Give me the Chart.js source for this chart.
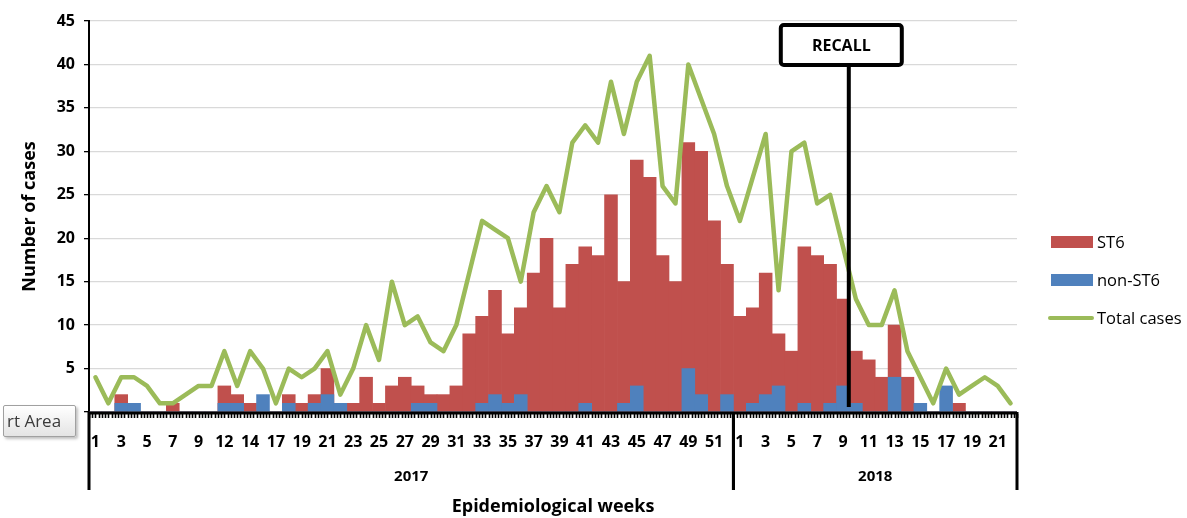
<!DOCTYPE html>
<html lang="en">
<head>
    <meta charset="UTF-8">
    <title>ST6 and non-ST6 cases by epidemiological week</title>
    <script src="https://cdn.jsdelivr.net/npm/chart.js"></script>
    <style>
        body { margin: 0; background: #fff; font-family: 'Open Sans', sans-serif; }
        .wrap { position: relative; width: 1187px; height: 518px; }
        .legend { position: absolute; left: 1048px; top: 228px; font-size: 16.5px; color: #000; }
        .legend div { position: relative; height: 38px; line-height: 28px; padding-left: 49px; }
        .legend span { position: absolute; left: 3px; }
        .sw-red { top: 8px; width: 42px; height: 12px; background: #C0504D; }
        .sw-blue { top: 8px; width: 42px; height: 12px; background: #4F81BD; }
        .sw-green { top: 12px; width: 46px !important; left: 0 !important; height: 4px; background: #9BBB59; border-radius: 2px; }
        .tip {
            position: absolute; left: 3px; top: 405px; width: 68px; height: 30px;
            border: 1px solid #a0a0a0; border-radius: 2px;
            background: linear-gradient(#ffffff, #e4e4e4);
            box-shadow: 2px 2px 3px rgba(0,0,0,0.25);
            font-family: 'Open Sans', sans-serif; font-size: 17px; color: #3a3a3a;
            line-height: 30px; padding-left: 3px; white-space: nowrap; overflow: hidden;
        }
    </style>
</head>
<body>
<div class="wrap">
    <canvas id="casesChart"></canvas>
    <div class="legend">
        <div><span class="sw-red"></span>ST6</div>
        <div><span class="sw-blue"></span>non-ST6</div>
        <div><span class="sw-green"></span>Total cases</div>
    </div>
    <div class="tip">rt Area</div>
</div>

<script>
    // epidemiological weeks (two weeks of 2017 have no row)
    const weeks2017 = [1, 2, 3, 4, 5, 6, 7, 8, 9, 10, 12, 13, 14, 15, 17, 18, 19, 20, 21, 22, 23, 24, 25, 26, 27,
        28, 29, 30, 31, 32, 33, 34, 35, 36, 37, 38, 39, 40, 41, 42, 43, 44, 45, 46, 47, 48, 49, 50, 51, 52];
    const weeks2018 = [1, 2, 3, 4, 5, 6, 7, 8, 9, 10, 11, 12, 13, 14, 15, 16, 17, 18, 19, 20, 21, 22];
    const years = ['2017', '2018'];

    const st6 = [0, 0, 2, 0, 0, 0, 1, 0, 0, 0,
        3, 2, 1, 0, 0, 2, 1, 2, 5, 1,
        1, 4, 1, 3, 4, 3, 2, 2, 3, 9,
        11, 14, 9, 12, 16, 20, 12, 17, 19, 18,
        25, 15, 29, 27, 18, 15, 31, 30, 22, 17,
        11, 12, 16, 9, 7, 19, 18, 17, 13, 7,
        6, 4, 10, 4, 0, 0, 0, 1, 0, 0, 0, 0];
    const nonSt6 = [0, 0, 1, 1, 0, 0, 0, 0, 0, 0,
        1, 1, 0, 2, 0, 1, 0, 1, 2, 1,
        0, 0, 0, 0, 0, 1, 1, 0, 0, 0,
        1, 2, 1, 2, 0, 0, 0, 0, 1, 0,
        0, 1, 3, 0, 0, 0, 5, 2, 0, 2,
        0, 1, 2, 3, 0, 1, 0, 1, 3, 1,
        0, 0, 4, 0, 1, 0, 3, 0, 0, 0, 0, 0];
    const totalCases = [4, 1, 4, 4, 3, 1, 1, 2, 3, 3,
        7, 3, 7, 5, 1, 5, 4, 5, 7, 2,
        5, 10, 6, 15, 10, 11, 8, 7, 10, 16,
        22, 21, 20, 15, 23, 26, 23, 31, 33, 31,
        38, 32, 38, 41, 26, 24, 40, 36, 32, 26,
        22, 27, 32, 14, 30, 31, 24, 25, 19, 13,
        10, 10, 14, 7, 4, 1, 5, 2, 3, 4, 3, 1];

    const yMax = 45;
    const yStep = 5;
    // recall falls between 2018 week 9 and week 10
    const recallYear = '2018';
    const recallWeek = 9;

    const labels = weeks2017.concat(weeks2018).map(String);
    const yearCounts = [weeks2017.length, weeks2018.length];

    const FONT = "'Open Sans', sans-serif";

    // x axis line, dense ticks, year groups and the recall marker
    const decor = {
        id: 'decor',
        afterDraw(chart) {
            const ctx = chart.ctx;
            const a = chart.chartArea;
            const x = chart.scales.x;
            const cw = x.getPixelForValue(1) - x.getPixelForValue(0);
            const edge = i => x.getPixelForValue(i) - cw / 2;
            ctx.save();
            ctx.strokeStyle = '#000';
            ctx.fillStyle = '#000';

            ctx.lineWidth = 3;
            ctx.beginPath();
            ctx.moveTo(a.left, a.bottom + 1);
            ctx.lineTo(a.right, a.bottom + 1);
            ctx.stroke();

            ctx.lineWidth = 1.6;
            ctx.beginPath();
            for (let i = 0; i <= labels.length * 4; i++) {
                const px = Math.round(a.left + i * cw / 4) + 0.5;
                ctx.moveTo(px, a.bottom + 2);
                ctx.lineTo(px, a.bottom + 6);
            }
            ctx.stroke();

            ctx.lineWidth = 3;
            ctx.font = 'bold 15px ' + FONT;
            ctx.textAlign = 'center';
            ctx.textBaseline = 'middle';
            let start = 0;
            years.forEach((yr, k) => {
                const end = start + yearCounts[k];
                const x0 = edge(start);
                const x1 = edge(end);
                ctx.beginPath();
                ctx.moveTo(x0, a.bottom);
                ctx.lineTo(x0, a.bottom + 78);
                ctx.moveTo(x1, a.bottom);
                ctx.lineTo(x1, a.bottom + 78);
                ctx.stroke();
                ctx.fillText(yr, (x0 + x1) / 2, a.bottom + 65);
                start = end;
            });

            const ri = (recallYear === '2018' ? weeks2017.length + weeks2018.indexOf(recallWeek)
                : weeks2017.indexOf(recallWeek));
            const lx = x.getPixelForValue(ri) + cw * 0.45;
            const bTop = a.top + 4, bBot = a.top + 44;
            const bL = lx - 68, bR = lx + 53;
            ctx.lineWidth = 4;
            ctx.beginPath();
            ctx.moveTo(lx, bBot);
            ctx.lineTo(lx, a.bottom - 5);
            ctx.stroke();
            ctx.beginPath();
            ctx.roundRect(bL, bTop, bR - bL, bBot - bTop, 3);
            ctx.fillStyle = '#fff';
            ctx.fill();
            ctx.stroke();
            ctx.fillStyle = '#000';
            ctx.font = 'bold 16px ' + FONT;
            ctx.fillText('RECALL', (bL + bR) / 2, (bTop + bBot) / 2 + 1);
            ctx.restore();
        }
    };

    new Chart(document.getElementById('casesChart').getContext('2d'), {
        type: 'bar',
        data: {
            labels: labels,
            datasets: [{
                label: 'ST6',
                data: st6,
                backgroundColor: '#C0504D',
                grouped: false,
                categoryPercentage: 1,
                barPercentage: 1,
                order: 3
            }, {
                label: 'non-ST6',
                data: nonSt6,
                backgroundColor: '#4F81BD',
                grouped: false,
                categoryPercentage: 1,
                barPercentage: 1,
                order: 2
            }, {
                type: 'line',
                label: 'Total cases',
                data: totalCases,
                borderColor: '#9BBB59',
                borderWidth: 4.5,
                borderJoinStyle: 'round',
                borderCapStyle: 'round',
                pointRadius: 0,
                tension: 0,
                order: 1
            }]
        },
        options: {
            responsive: true,
            maintainAspectRatio: false,
            animation: false,
            layout: { padding: { top: 21, right: 170, left: 0, bottom: 0 } },
            plugins: {
                legend: { display: false },
                tooltip: { enabled: false }
            },
            scales: {
                x: {
                    grid: { display: false },
                    border: { display: false },
                    ticks: {
                        autoSkip: false,
                        maxRotation: 0,
                        padding: 13,
                        color: '#000',
                        font: { family: FONT, size: 16, weight: 'bold' },
                        callback: (v, i) => (i % 2 === 0 ? labels[i] : '')
                    },
                    title: {
                        display: true,
                        text: 'Epidemiological weeks',
                        color: '#000',
                        font: { family: FONT, size: 18, weight: 'bold' },
                        padding: { top: 0, bottom: 0 }
                    },
                    afterFit: s => { s.height = 106; }
                },
                y: {
                    min: 0,
                    max: yMax,
                    ticks: {
                        stepSize: yStep,
                        padding: 9,
                        color: '#000',
                        font: { family: FONT, size: 16, weight: 'bold' }
                    },
                    grid: { color: '#d9d9d9', lineWidth: 1.3, tickColor: '#000', tickLength: 5, tickWidth: 1.3 },
                    border: { display: true, color: '#000', width: 2 },
                    title: {
                        display: true,
                        text: 'Number of cases',
                        color: '#000',
                        font: { family: FONT, size: 18, weight: 'bold' },
                        padding: { top: 19, bottom: 19 }
                    },
                    afterFit: s => { s.width = 89; }
                }
            }
        },
        plugins: [decor]
    });
</script>
</body>
</html>
